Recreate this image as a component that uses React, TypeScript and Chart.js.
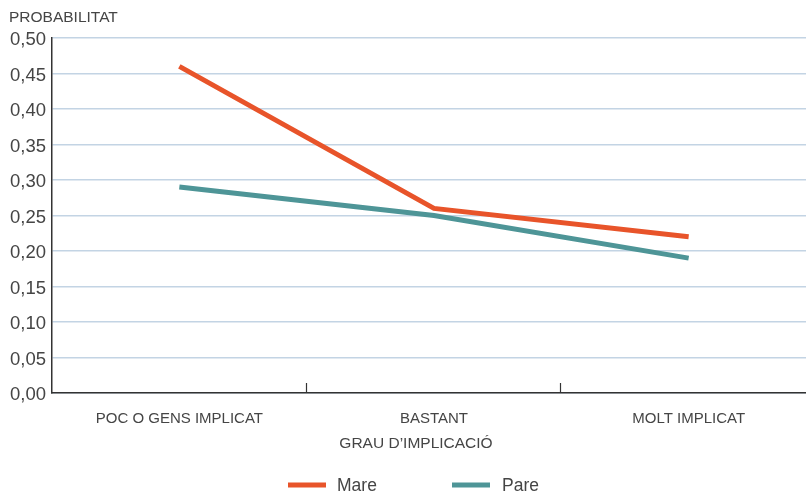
import React, { useEffect, useRef } from "react";
import { Chart, registerables } from "chart.js";

Chart.register(...registerables);

const categories = ["POC O GENS IMPLICAT", "BASTANT", "MOLT IMPLICAT"];
const mareValues = [0.46, 0.26, 0.22];
const pareValues = [0.29, 0.25, 0.19];
const yTitle = "PROBABILITAT";
const xTitle = "GRAU D\u2019IMPLICACI\u00d3";
const seriesNames = ["Mare", "Pare"];

const MARE = "#e8542a";
const PARE = "#4e9597";
const TEXT = "#454545";
const FONT = "'Liberation Sans', Arial, sans-serif";

const decorPlugin = {
  id: "decor",
  afterDraw(chart: any) {
    const ctx = chart.ctx;
    const xs = chart.scales.x;
    const area = chart.chartArea;
    ctx.save();
    // category boundary ticks
    ctx.strokeStyle = "#333";
    ctx.lineWidth = 1.2;
    for (let i = 0; i < categories.length - 1; i++) {
      const x = Math.round((xs.getPixelForValue(i) + xs.getPixelForValue(i + 1)) / 2) - 0.5;
      ctx.beginPath();
      ctx.moveTo(x, area.bottom - 10);
      ctx.lineTo(x, area.bottom);
      ctx.stroke();
    }
    // y title
    ctx.fillStyle = TEXT;
    ctx.font = `15.5px ${FONT}`;
    ctx.textAlign = "left";
    ctx.textBaseline = "middle";
    ctx.fillText(yTitle, 9, 18);
    // x title
    ctx.textAlign = "center";
    ctx.fillText(xTitle, 416, 444);
    // legend
    const items = [
      { name: seriesNames[0], color: MARE, x0: 288, x1: 326, tx: 337 },
      { name: seriesNames[1], color: PARE, x0: 452, x1: 490, tx: 502 },
    ];
    ctx.font = `17.5px ${FONT}`;
    ctx.textAlign = "left";
    for (const it of items) {
      ctx.strokeStyle = it.color;
      ctx.lineWidth = 5;
      ctx.beginPath();
      ctx.moveTo(it.x0, 485);
      ctx.lineTo(it.x1, 485);
      ctx.stroke();
      ctx.fillStyle = TEXT;
      ctx.fillText(it.name, it.tx, 486);
    }
    ctx.restore();
  },
};

export default function App() {
  const ref = useRef<HTMLCanvasElement>(null);
  useEffect(() => {
    const chart = new Chart(ref.current as HTMLCanvasElement, {
      type: "line",
      data: {
        labels: categories,
        datasets: [
          {
            label: seriesNames[0],
            data: mareValues,
            borderColor: MARE,
            backgroundColor: MARE,
            borderWidth: 5,
            pointRadius: 0,
            tension: 0,
          },
          {
            label: seriesNames[1],
            data: pareValues,
            borderColor: PARE,
            backgroundColor: PARE,
            borderWidth: 5,
            pointRadius: 0,
            tension: 0,
          },
        ],
      },
      options: {
        animation: false,
        responsive: false,
        layout: { padding: { top: 38, left: 0, right: 0, bottom: 0 } },
        plugins: { legend: { display: false }, tooltip: { enabled: false } },
        scales: {
          x: {
            offset: true,
            grid: { display: false, drawTicks: false },
            border: { display: true, color: "#333", width: 1.5 },
            ticks: {
              color: TEXT,
              font: { family: FONT, size: 15 },
              padding: 17,
              maxRotation: 0,
            },
            afterFit(scale: any) {
              scale.height = 100;
            },
          },
          y: {
            min: 0,
            max: 0.5,
            grid: { color: "#c3d4e4", lineWidth: 1.5, drawTicks: false },
            border: { display: true, color: "#333", width: 1.5 },
            ticks: {
              stepSize: 0.05,
              color: TEXT,
              font: { family: FONT, size: 18.5 },
              padding: 6,
              labelOffset: 2,
              callback: (v: any) => Number(v).toFixed(2).replace(".", ","),
            },
            afterFit(scale: any) {
              scale.width = 52;
            },
          },
        },
      },
      plugins: [decorPlugin],
    });
    return () => chart.destroy();
  }, []);
  return (
    <div style={{ position: "fixed", left: 0, top: 0, width: 806, height: 493, overflow: "hidden", background: "#fff" }}>
      <canvas ref={ref} width={816} height={493} style={{ display: "block" }} />
    </div>
  );
}
